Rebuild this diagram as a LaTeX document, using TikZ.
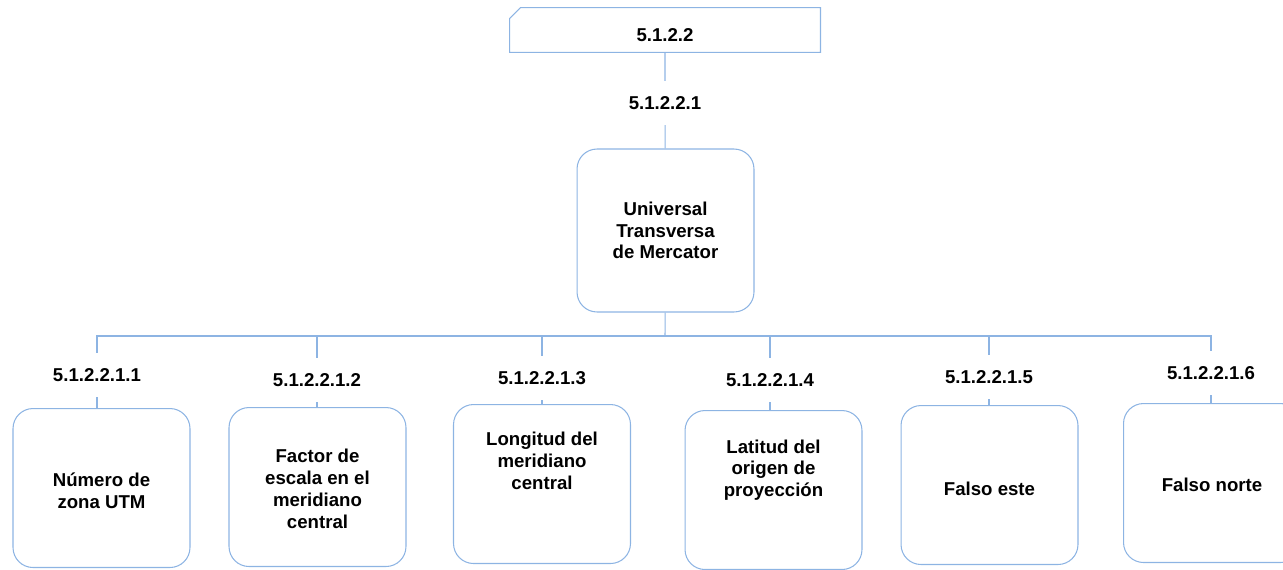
\documentclass[tikz,border=0pt]{standalone}
\usepackage{fontspec}
\setmainfont{Liberation Sans}
\usetikzlibrary{positioning,calc,shapes.misc}
\definecolor{boxblue}{RGB}{141,180,227}

\begin{document}
\begin{tikzpicture}[x=0.02cm, y=-0.02cm, line width=0.6pt,
  every node/.style={font=\fontsize{10.6}{12.4}\selectfont\bfseries},
  link/.style={draw=boxblue},
  numlbl/.style={minimum height=0.86cm, inner sep=0pt},
  bigbox/.style={draw=boxblue, rounded corners=0.4cm, minimum width=3.54cm, minimum height=3.26cm, align=center},
  kidbox/.style={draw=boxblue, rounded corners=0.4cm, minimum width=3.54cm, minimum height=3.18cm, anchor=north},
  kidtxt/.style={align=center}]
\clip (0,0) rectangle (1283,569);
\node[draw=boxblue, chamfered rectangle, chamfered rectangle corners=north west, chamfered rectangle xsep=0.12cm, chamfered rectangle ysep=0.1cm, minimum width=6.22cm, minimum height=0.88cm, text height=0.46cm, text depth=0pt] (top) at (665,30) {5.1.2.2};
\node[numlbl] (n0) at (665,103) {5.1.2.2.1};
\node[bigbox] (utm) at (665.5,230.5) {Universal\\Transversa\\de Mercator};
\coordinate (bus) at (665,336);
\draw[link] (top) -- (n0);
\draw[link] (n0) -- (utm);
\draw[link] (utm) -- (bus);
\foreach \i/\lx/\ly/\bx/\by/\ty/\txt in {
  1/97/375/101.5/408/491/{Número de\\zona UTM},
  2/317/380/317.5/407/489/{Factor de\\escala en el\\meridiano\\central},
  3/542/378/542/404/461/{Longitud del\\meridiano\\central},
  4/770/380/773.5/410/470/{Latitud del\\origen de\\proyección},
  5/989/377/989.5/405/489/{Falso este},
  6/1211/373/1212/403/485/{Falso norte}}
{
  \node[numlbl] (n\i) at (\lx,\ly) {5.1.2.2.1.\i};
  \node[kidbox] (b\i) at (\bx,\by) {};
  \node[kidtxt] (t\i) at (\bx,\ty) {\txt};
  \draw[link] (bus) -| (n\i.north);
  \draw[link] (n\i.south) -- (n\i.south |- b\i.north);
}
\end{tikzpicture}
\end{document}
